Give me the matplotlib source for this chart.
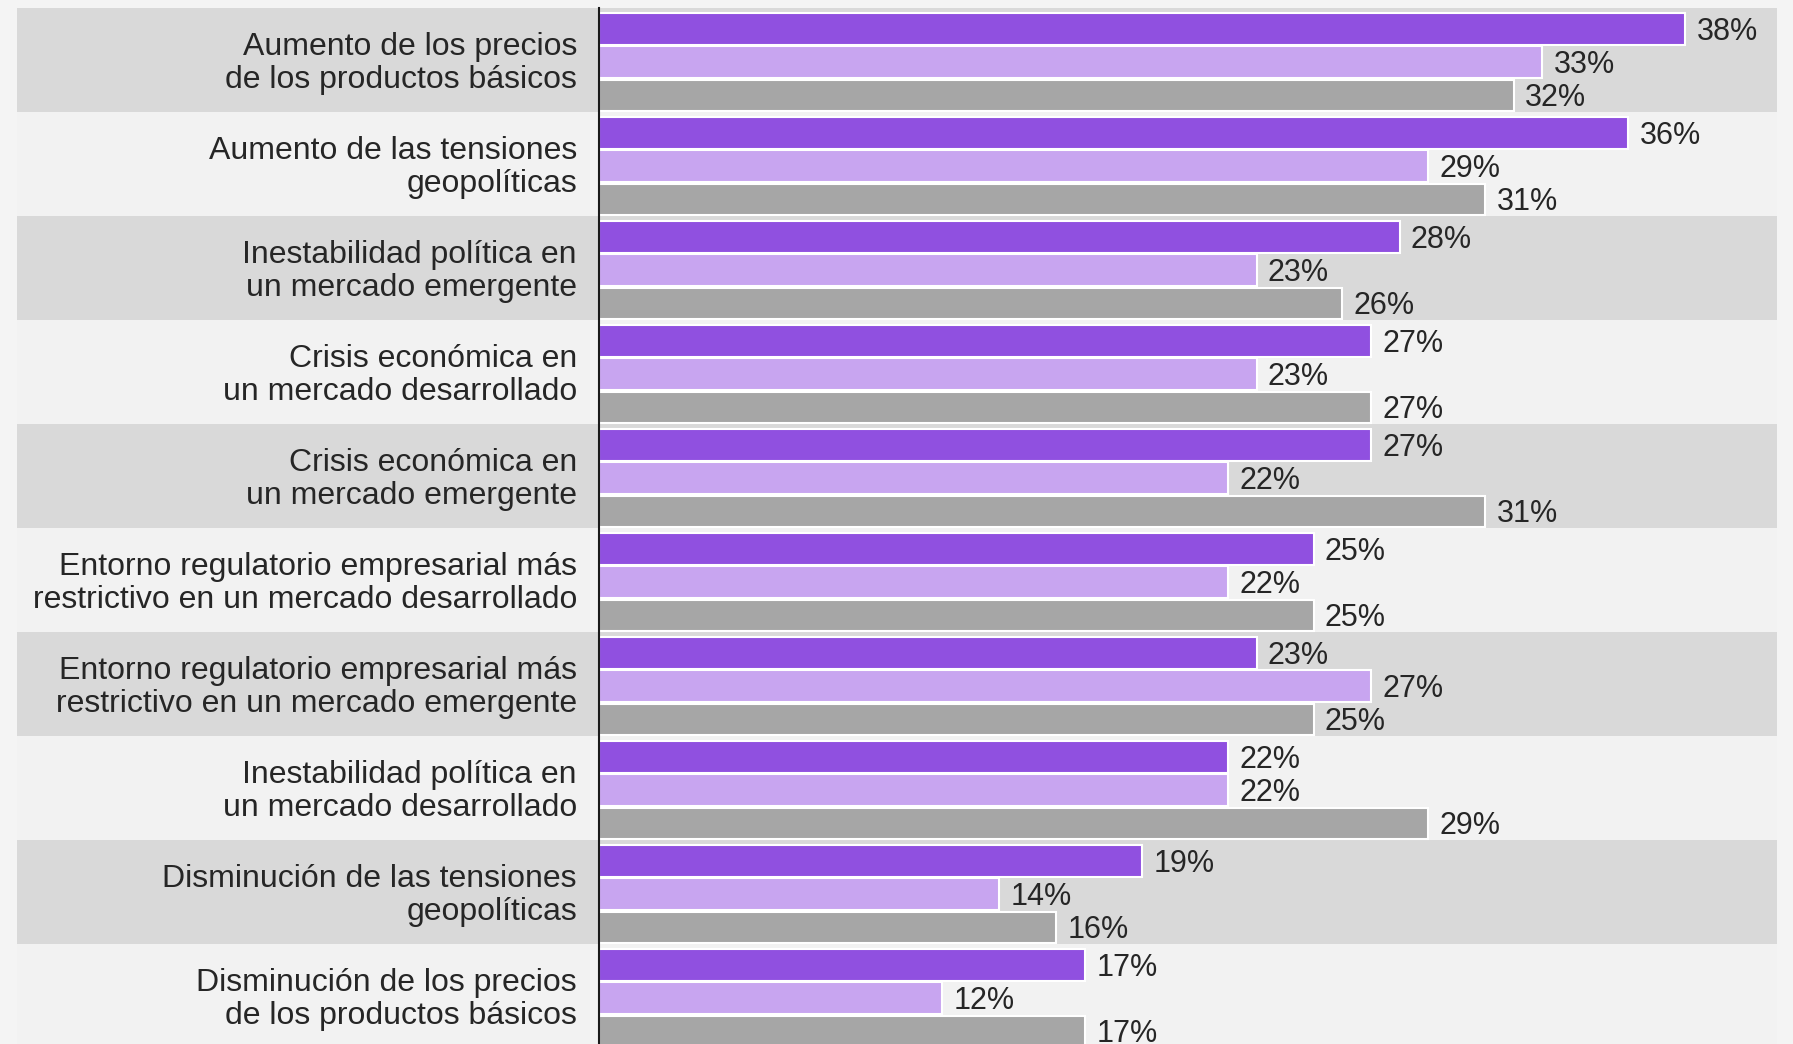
import matplotlib.pyplot as plt
from matplotlib.transforms import blended_transform_factory

plt.rcParams['font.family'] = ['Liberation Sans', 'DejaVu Sans']

categories = [
    "Aumento de los precios\nde los productos básicos",
    "Aumento de las tensiones\ngeopolíticas",
    "Inestabilidad política en\nun mercado emergente",
    "Crisis económica en\nun mercado desarrollado",
    "Crisis económica en\nun mercado emergente",
    "Entorno regulatorio empresarial más\nrestrictivo en un mercado desarrollado",
    "Entorno regulatorio empresarial más\nrestrictivo en un mercado emergente",
    "Inestabilidad política en\nun mercado desarrollado",
    "Disminución de las tensiones\ngeopolíticas",
    "Disminución de los precios\nde los productos básicos",
]
serie_1 = [38, 36, 28, 27, 27, 25, 23, 22, 19, 17]
serie_2 = [33, 29, 23, 23, 22, 22, 27, 22, 14, 12]
serie_3 = [32, 31, 26, 27, 31, 25, 25, 29, 16, 17]

colors = ['#9050E0', '#C8A5F0', '#A6A6A6']
text_color = '#262626'

W, H = 1793, 1044
fig = plt.figure(figsize=(W / 100, H / 100), dpi=100, facecolor='#f4f4f4')
ax_left, ax_right = 599, 1777
band_left = 17
top, group_h = 8, 104
n = len(categories)
ax = fig.add_axes([ax_left / W, 1 - (top + n * group_h) / H,
                   (ax_right - ax_left) / W, n * group_h / H])
ax.set_facecolor('none')
px_per_unit = 28.59
ax.set_xlim(0, (ax_right - ax_left) / px_per_unit)
ax.set_ylim(n, 0)

xmin_band = -(ax_left - band_left) / (ax_right - ax_left)
for i in range(n):
    ax.axhspan(i, i + 1, xmin=xmin_band, xmax=1,
               color='#d9d9d9' if i % 2 == 0 else '#f2f2f2',
               clip_on=False, zorder=0, lw=0)

offsets = [0.20, 0.52, 0.84]
for series, col, off in zip([serie_1, serie_2, serie_3], colors, offsets):
    ys = [i + off for i in range(n)]
    ax.barh(ys, series, height=0.305, color=col, edgecolor='white',
            linewidth=1.5, zorder=2)
    for v, y in zip(series, ys):
        ax.annotate(f"{v}%", xy=(v, y), xytext=(8, -7.9),
                    textcoords='offset points', ha='left', va='baseline',
                    fontsize=22, color=text_color, annotation_clip=False)

trans = blended_transform_factory(ax.transAxes, ax.transData)
for i, cat in enumerate(categories):
    ax.text(-22 / (ax_right - ax_left), i + 0.535, cat, transform=trans,
            ha='right', va='center', fontsize=23, color=text_color,
            linespacing=1.1)

for s in ['top', 'right', 'bottom']:
    ax.spines[s].set_visible(False)
ax.spines['left'].set_color('#1a1a1a')
ax.spines['left'].set_linewidth(1.5)
ax.spines['left'].set_zorder(3)
ax.set_xticks([])
ax.set_yticks([])

fig.savefig('out.png', dpi=100, facecolor=fig.get_facecolor())
